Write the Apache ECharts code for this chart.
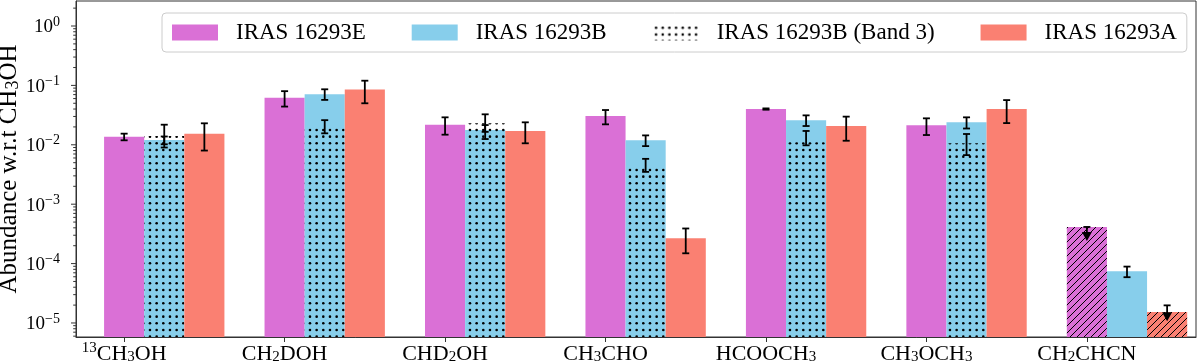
<!DOCTYPE html>
<html>
<head>
<meta charset="utf-8">
<script src="https://cdn.jsdelivr.net/npm/echarts@6/dist/echarts.min.js"></script>
<style>
  html, body { margin: 0; padding: 0; background: #fff; }
  #chart { width: 1200px; height: 364px; }
</style>
</head>
<body>
<div id="chart"></div>
<script>
const FONT = '"Liberation Serif", "Times New Roman", serif';

// molecules on the x axis (rich-text labels for sub/superscripts)
const categories = ['13CH3OH', 'CH2DOH', 'CHD2OH', 'CH3CHO', 'HCOOCH3', 'CH3OCH3', 'CH2CHCN'];
const catLabels = [
  '{sp|13}{n|CH}{sb|3}{n|OH}',
  '{n|CH}{sb|2}{n|DOH}',
  '{n|CHD}{sb|2}{n|OH}',
  '{n|CH}{sb|3}{n|CHO}',
  '{n|HCOOCH}{sb|3}',
  '{n|CH}{sb|3}{n|OCH}{sb|3}',
  '{n|CH}{sb|2}{n|CHCN}'
];

// IRAS 16293E
const valE = [0.0137, 0.062, 0.0218, 0.0305, 0.040, 0.0213, 4.14e-4];
const loE  = [0.0119, 0.044, 0.0148, 0.0221, 0.039, 0.0146, 2.4e-4];
const hiE  = [0.0154, 0.080, 0.029, 0.0385, 0.041, 0.0279, 4.14e-4];
const limE = [0, 0, 0, 0, 0, 0, 1];

// IRAS 16293B
const valB = [0.0120, 0.071, 0.0177, 0.0119, 0.0258, 0.0239, 7.4e-5];
const loB  = [0.0102, 0.057, 0.0125, 0.0095, 0.0207, 0.0188, 5.9e-5];
const hiB  = [0.0138, 0.086, 0.0215, 0.0144, 0.0313, 0.029, 8.9e-5];
const limB = [0, 0, 0, 0, 0, 0, 0];

// IRAS 16293B (Band 3)
const valB3 = [0.0141, 0.019, 0.023, 0.0041, 0.0110, 0.0106, null];
const loB3  = [0.0090, 0.0156, 0.0165, 0.0035, 0.0098, 0.0067, null];
const hiB3  = [0.0218, 0.026, 0.0326, 0.0058, 0.0171, 0.0152, null];
const limB3 = [0, 0, 0, 0, 0, 0, 0];

// IRAS 16293A
const valA = [0.0154, 0.085, 0.0171, 2.66e-4, 0.0207, 0.040, 1.53e-5];
const loA  = [0.008, 0.05, 0.0106, 1.49e-4, 0.0117, 0.0232, 1.07e-5];
const hiA  = [0.023, 0.12, 0.0239, 3.9e-4, 0.0298, 0.0566, 1.98e-5];
const limA = [0, 0, 0, 0, 0, 0, 1];

const X_MIN = -0.3, X_MAX = 6.68;
const Y_MIN = Math.pow(10, -5.236), Y_MAX = Math.pow(10, 0.421);
const BAR_W = 0.25;

const C_E = '#DA70D6', C_B = '#87CEEB', C_A = '#FA8072';

function dots(bg) {
  const c = document.createElement('canvas');
  c.width = c.height = 20;
  const g = c.getContext('2d');
  if (bg) { g.fillStyle = bg; g.fillRect(0, 0, 20, 20); }
  g.fillStyle = '#000';
  for (let i = 0; i < 3; i++) for (let j = 0; j < 3; j++) {
    g.beginPath();
    g.arc(3.3 + i * 6.67, 3.3 + j * 6.67, 1.3, 0, Math.PI * 2);
    g.fill();
  }
  return { image: c, repeat: 'repeat' };
}

function hatch(bg) {
  const s = 7;
  const c = document.createElement('canvas');
  c.width = c.height = s;
  const g = c.getContext('2d');
  g.fillStyle = bg; g.fillRect(0, 0, s, s);
  g.strokeStyle = '#000'; g.lineWidth = 1;
  g.beginPath();
  g.moveTo(0, s); g.lineTo(s, 0);
  g.moveTo(-1, 1); g.lineTo(1, -1);
  g.moveTo(s - 1, s + 1); g.lineTo(s + 1, s - 1);
  g.stroke();
  return { image: c, repeat: 'repeat' };
}

const rows = (v, lo, hi, lim) => v.map((d, i) => [i, d, lo[i], hi[i], lim[i]]).filter(r => r[1] != null);

function barRender(offset, fill, limFill) {
  return function (params, api) {
    const x = api.value(0) + offset;
    const p0 = api.coord([x - BAR_W / 2, api.value(1)]);
    const p1 = api.coord([x + BAR_W / 2, Y_MIN]);
    return {
      type: 'rect',
      shape: { x: p0[0], y: p0[1], width: p1[0] - p0[0], height: p1[1] - p0[1] },
      style: { fill: api.value(4) && limFill ? limFill : fill }
    };
  };
}

function errRender(offset) {
  return function (params, api) {
    const x = api.value(0) + offset;
    const top = api.coord([x, api.value(3)]);
    const bot = api.coord([x, api.value(2)]);
    const lim = api.value(4);
    const st = { stroke: '#000', lineWidth: 1.8 };
    const cap = 3.5;
    const kids = [
      { type: 'line', shape: { x1: top[0], y1: top[1], x2: bot[0], y2: lim ? bot[1] - 6 : bot[1] }, style: st },
      { type: 'line', shape: { x1: top[0] - cap, y1: top[1], x2: top[0] + cap, y2: top[1] }, style: st }
    ];
    if (lim) {
      kids.push({ type: 'polygon', shape: { points: [[bot[0] - 5, bot[1] - 9], [bot[0] + 5, bot[1] - 9], [bot[0], bot[1]]] }, style: { fill: '#000' } });
    } else {
      kids.push({ type: 'line', shape: { x1: bot[0] - cap, y1: bot[1], x2: bot[0] + cap, y2: bot[1] }, style: st });
    }
    return { type: 'group', children: kids };
  };
}

// log-axis tick marks (major at decades, minor at 2..9)
const yTicks = [];
for (let k = -6; k <= 0; k++) {
  for (let m = 1; m <= 9; m++) {
    const v = m * Math.pow(10, k);
    if (v >= Y_MIN && v <= Y_MAX) yTicks.push([X_MIN, v, m === 1 ? 1 : 0]);
  }
}

const fillE = C_E, fillB = C_B, fillB3 = dots(null), fillA = C_A;
const legendB3 = dots('#fff');

const chart = echarts.init(document.getElementById('chart'));

const seriesDef = [
  { name: 'IRAS 16293E', off: 0, data: rows(valE, loE, hiE, limE), fill: fillE, lim: hatch(C_E), legend: C_E },
  { name: 'IRAS 16293B', off: 0.25, data: rows(valB, loB, hiB, limB), fill: fillB, lim: null, legend: C_B },
  { name: 'IRAS 16293B (Band 3)', off: 0.25, data: rows(valB3, loB3, hiB3, limB3), fill: fillB3, lim: null, legend: legendB3 },
  { name: 'IRAS 16293A', off: 0.5, data: rows(valA, loA, hiA, limA), fill: fillA, lim: hatch(C_A), legend: C_A }
];

const series = [];
seriesDef.forEach(s => {
  series.push({
    type: 'custom', name: s.name, data: s.data, z: 2,
    itemStyle: { color: s.legend },
    renderItem: barRender(s.off, s.fill, s.lim)
  });
});
seriesDef.forEach(s => {
  series.push({
    type: 'custom', name: s.name + ' err', data: s.data, z: 4,
    renderItem: errRender(s.off)
  });
});
series.push({
  type: 'custom', name: 'yticks', data: yTicks, z: 5, clip: false, silent: true,
  renderItem: function (params, api) {
    const p = api.coord([api.value(0), api.value(1)]);
    const len = api.value(2) ? 5 : 2.8;
    return { type: 'line', shape: { x1: p[0] - len, y1: p[1], x2: p[0], y2: p[1] }, style: { stroke: '#333', lineWidth: 1 } };
  }
});

chart.setOption({
  animation: false,
  backgroundColor: '#fff',
  grid: {
    left: 76, right: 4, top: 1, bottom: 27, containLabel: false, outerBoundsMode: 'none',
    show: true, borderColor: '#333', borderWidth: 1
  },
  legend: {
    left: 162, top: 13,
    data: seriesDef.map(s => ({ name: s.name, itemStyle: { color: s.legend } })),
    icon: 'rect', itemWidth: 46, itemHeight: 16, itemGap: 46,
    padding: [8, 10, 8, 10],
    borderColor: '#cccccc', borderWidth: 1, borderRadius: 4,
    backgroundColor: 'rgba(255,255,255,0.8)',
    textStyle: { fontFamily: FONT, fontSize: 23, color: '#000', padding: [0, 0, 0, 13], lineHeight: 23 }
  },
  xAxis: {
    type: 'value', min: X_MIN, max: X_MAX,
    splitLine: { show: false },
    axisLine: { show: true, onZero: false, lineStyle: { color: '#333', width: 1 } },
    axisTick: { show: true, customValues: categories.map((c, i) => i), length: 5, lineStyle: { color: '#333' } },
    axisLabel: {
      customValues: categories.map((c, i) => i),
      formatter: v => catLabels[Math.round(v)],
      margin: 4,
      rich: {
        n: { fontFamily: FONT, fontSize: 22, color: '#000', lineHeight: 24, verticalAlign: 'bottom' },
        sb: { fontFamily: FONT, fontSize: 15, color: '#000', lineHeight: 10, verticalAlign: 'bottom' },
        sp: { fontFamily: FONT, fontSize: 15, color: '#000', lineHeight: 10, verticalAlign: 'top' }
      }
    }
  },
  yAxis: {
    type: 'log', logBase: 10, min: Y_MIN, max: Y_MAX, splitNumber: 6,
    splitLine: { show: false },
    axisLine: { show: true, onZero: false, lineStyle: { color: '#333', width: 1 } },
    axisTick: { show: false },
    axisLabel: {
      margin: 16,
      formatter: v => {
        const l = Math.log10(v), e = Math.round(l);
        if (Math.abs(l - e) > 1e-6) return '';
        return '{n|10}{e|' + (e < 0 ? '\u2212' + (-e) : e) + '}';
      },
      rich: {
        n: { fontFamily: FONT, fontSize: 19, color: '#000', lineHeight: 22, verticalAlign: 'bottom' },
        e: { fontFamily: FONT, fontSize: 14, color: '#000', lineHeight: 8, verticalAlign: 'top' }
      }
    },
    name: '{n|Abundance w.r.t CH}{s|3}{n|OH}',
    nameLocation: 'middle', nameGap: 54, nameMoveOverlap: false,
    nameTextStyle: {
      rich: {
        n: { fontFamily: FONT, fontSize: 25, color: '#000', lineHeight: 27, verticalAlign: 'bottom' },
        s: { fontFamily: FONT, fontSize: 18, color: '#000', lineHeight: 10, verticalAlign: 'bottom' }
      }
    }
  },
  series: series
});
</script>
</body>
</html>
